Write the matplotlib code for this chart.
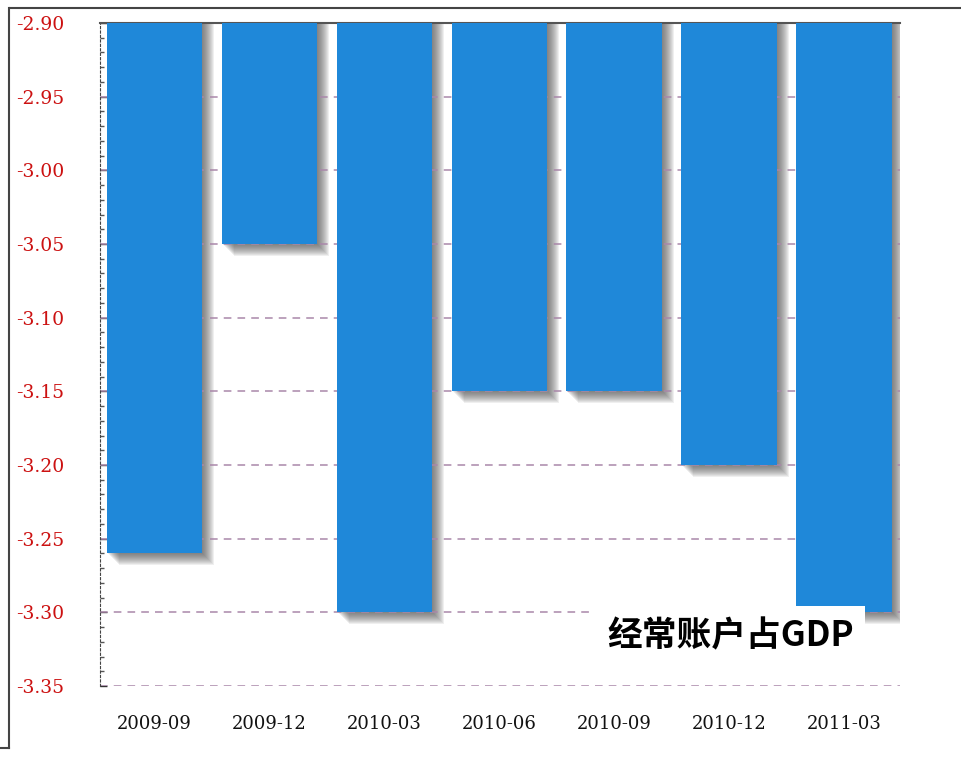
import numpy as np
import matplotlib.pyplot as plt
from matplotlib.lines import Line2D
from matplotlib.patches import Rectangle

# 经常账户占GDP (%)
quarters = ["2009-09", "2009-12", "2010-03", "2010-06", "2010-09", "2010-12", "2011-03"]
values = [-3.26, -3.05, -3.30, -3.15, -3.15, -3.20, -3.30]
yticks = [-2.90, -2.95, -3.00, -3.05, -3.10, -3.15, -3.20, -3.25, -3.30, -3.35]

base = -2.90
bar_color = "#1f88d9"
grid_color = "#a987a9"
red = "#cc1111"

fig = plt.figure(figsize=(9.61, 7.57), dpi=100)
ax = fig.add_axes([100 / 961, 71 / 757, 800 / 961, 663 / 757])

x = np.arange(len(quarters))
vals = np.array(values)
ax.set_xlim(-0.474, len(quarters) - 0.513)
ax.set_ylim(-3.35, -2.90)

# pixel -> data steps, for the soft drop shadow
px_x = 1.0 / 114.9
px_y = 0.45 / 663
width = 0.83
for s in range(1, 13):
    ax.bar(x + s * px_x, vals - base - s * px_y, bottom=base, width=width,
           color="#505050", alpha=0.09, linewidth=0, zorder=1)

# bars hang down from the top of the axis
ax.bar(x, vals - base, bottom=base, width=width, color=bar_color,
       linewidth=0, zorder=3)

# dashed grid
for t in yticks:
    ax.axhline(t, color=grid_color, linestyle=(0, (5, 4)), linewidth=1.1, zorder=2)

ax.set_yticks(yticks)
ax.set_yticklabels([f"{t:.2f}" for t in yticks], color=red,
                   fontsize=13.5, family="DejaVu Serif")
ax.set_yticks(np.arange(-3.35, -2.895, 0.01), minor=True)
ax.tick_params(axis="y", which="major", direction="in", length=5, width=1,
               color="#333333", pad=26)
ax.tick_params(axis="y", which="minor", direction="in", length=3, width=1,
               color="#555555")
ax.set_xticks(x)
ax.set_xticklabels(quarters, fontsize=13, family="DejaVu Serif", color="#111111")
ax.tick_params(axis="x", length=0, pad=21)

for side in ["right", "bottom"]:
    ax.spines[side].set_visible(False)
ax.spines["left"].set_linestyle((0, (2, 2)))
ax.spines["left"].set_color("#444444")
ax.spines["top"].set_color("#555555")
ax.spines["top"].set_linewidth(1.5)

# title box in the lower right
ax.add_patch(Rectangle((0.616, 0.027), 0.34, 0.094, transform=ax.transAxes,
                       facecolor="white", edgecolor="none", zorder=5))
ax.text(0.788, 0.076, "经常账户占GDP", transform=ax.transAxes,
        ha="center", va="center", fontsize=25, fontweight="bold",
        family=["Noto Sans CJK SC", "DejaVu Sans"], color="black", zorder=6)

# outer frame
fig.add_artist(Line2D([10 / 961, 1], [1 - 8 / 757, 1 - 8 / 757],
                      transform=fig.transFigure, color="#444444", linewidth=1.5))
fig.add_artist(Line2D([9 / 961, 9 / 961], [1 - 8 / 757, 1 - 748 / 757],
                      transform=fig.transFigure, color="#444444", linewidth=1.5))
fig.add_artist(Line2D([0, 9 / 961], [1 - 748 / 757, 1 - 748 / 757],
                      transform=fig.transFigure, color="#444444", linewidth=1.5))

fig.savefig("out.png", dpi=100)
